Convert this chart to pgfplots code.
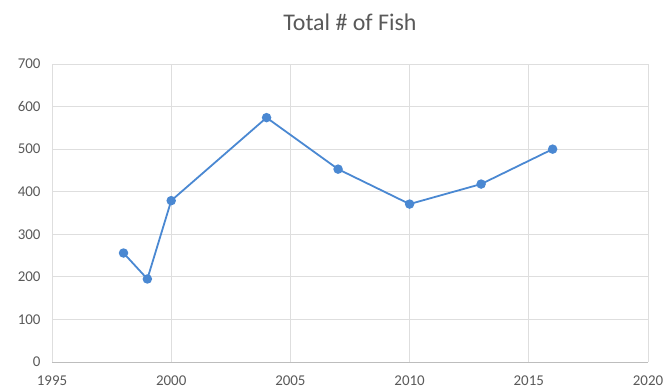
\documentclass[border=0pt]{standalone}
\usepackage{pgfplots}
\pgfplotsset{compat=1.18}
\usepackage{fontspec}
\setmainfont{Carlito}
\definecolor{lineblue}{RGB}{74,136,210}
\definecolor{txtgray}{RGB}{89,89,89}
\definecolor{gridgray}{RGB}{222,222,222}
\begin{document}
\begin{tikzpicture}
\useasboundingbox (-52bp,-30bp) rectangle (620bp,362bp);
\begin{axis}[
  scale only axis,
  width=596bp, height=298bp,
  xmin=1995, xmax=2020, ymin=0, ymax=700,
  xtick={1995,2000,...,2020},
  ytick={0,100,...,700},
  grid=major,
  major grid style={gridgray, line width=0.8pt},
  axis line style={draw=none},
  tick style={draw=none},
  x tick label style={font=\fontsize{15}{17}\selectfont, text=txtgray, /pgf/number format/1000 sep={}, yshift=-10bp},
  y tick label style={font=\fontsize{15}{17}\selectfont, text=txtgray, xshift=-8bp},
  /pgf/number format/assume math mode=true,
  title={Total \# of Fish},
  title style={font=\fontsize{24}{28}\selectfont, text=txtgray, yshift=24bp},
  clip=false,
]
\draw[gridgray!85!black, line width=0.8pt] (axis cs:1995,0) -- (axis cs:2020,0);
\addplot[lineblue, line width=1.8pt, mark=*, mark size=3.8pt, mark options={fill=lineblue, draw=lineblue}]
coordinates {
(1998,256) (1999,195) (2000,379) (2004,574) (2007,453) (2010,371) (2013,418) (2016,500)
};
\end{axis}
\end{tikzpicture}
\end{document}
